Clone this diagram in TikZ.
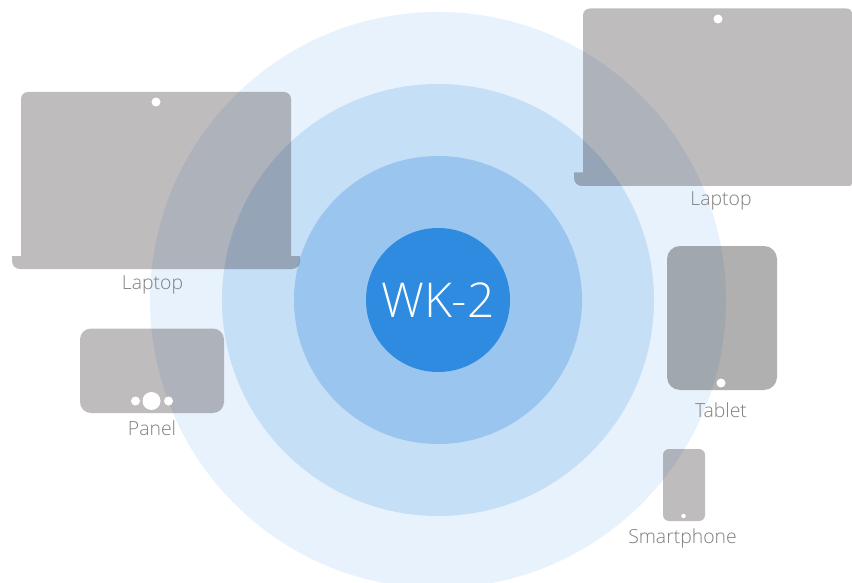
\documentclass[tikz,border=0pt]{standalone}
\usepackage{fontspec}
\setmainfont{Open Sans Light}
\definecolor{ringA}{HTML}{E8F2FC}
\definecolor{ringB}{HTML}{C5DFF7}
\definecolor{ringC}{HTML}{99C5EE}
\definecolor{core}{HTML}{2E8BE0}
\definecolor{shade}{HTML}{140A0E}
\definecolor{lab}{HTML}{808080}
\tikzset{
  px/.style={x=1pt,y=-1pt},
  device/.style={fill=shade,fill opacity=.27},
  slate/.style={fill=black,fill opacity=.31},
  dot/.style={fill=white,circle,inner sep=0pt},
  lbl/.style={text=lab,font=\fontsize{19.4}{23}\selectfont,inner sep=0pt,anchor=center},
  ring/.style={circle,inner sep=0pt}
}
\begin{document}
\begin{tikzpicture}[px]
\useasboundingbox (0,0) rectangle (852,583);
\clip (0,0) rectangle (852,583);
\fill[white] (0,0) rectangle (852,583);
\node[ring,fill=ringA,minimum size=576pt] (r4) at (438,300) {};
\node[ring,fill=ringB,minimum size=432pt] (r3) at (438,300) {};
\node[ring,fill=ringC,minimum size=288pt] (r2) at (438,300) {};
\node[ring,fill=core,minimum size=144pt,text=white,font=\fontsize{48}{52}\selectfont] (r1) at (438,300) {WK-2};
% left laptop
\fill[device] (12,256) -- (21,256) -- (21,99) .. controls (21,95) and (24,92) .. (28,92) -- (284,92) .. controls (288,92) and (291,95) .. (291,99) -- (291,256) -- (300,256) -- (300,261) .. controls (300,266) and (296,269) .. (292,269) -- (20,269) .. controls (16,269) and (12,266) .. (12,261) -- cycle;
\node[dot,minimum size=9pt] (ld) at (156,102) {};
\node[lbl] (ll) at (152.5,285) {Laptop};
% right laptop
\fill[device] (574,172.5) -- (583,172.5) -- (583,15.5) .. controls (583,11.5) and (586,8.5) .. (590,8.5) -- (846,8.5) .. controls (850,8.5) and (852,10.5) .. (852,13) -- (852,183) .. controls (852,185) and (851,186) .. (849,186) -- (582,186) .. controls (578,186) and (574,183) .. (574,178) -- cycle;
\node[dot,minimum size=9pt] (rd) at (718,19) {};
\node[lbl] (rl) at (721,201) {Laptop};
% panel
\fill[device,rounded corners=11pt] (80,328.5) rectangle (224,413);
\node[dot,minimum size=18pt] (p0) at (151.5,401) {};
\node[dot,minimum size=9pt] (p1) at (135.5,401) {};
\node[dot,minimum size=9pt] (p2) at (168.5,401) {};
\node[lbl] (pl) at (152,428) {Panel};
% tablet
\fill[slate,rounded corners=13pt] (667,246) rectangle (777,390);
\node[dot,minimum size=9pt] (td) at (721,383) {};
\node[lbl] (tl) at (721,410.5) {Tablet};
% phone
\fill[device,rounded corners=6pt] (663,449) rectangle (705,521);
\node[dot,minimum size=4.5pt] (sd) at (683.5,516) {};
\node[lbl] (sl) at (682.5,538) {Smartphone};
\end{tikzpicture}
\end{document}
